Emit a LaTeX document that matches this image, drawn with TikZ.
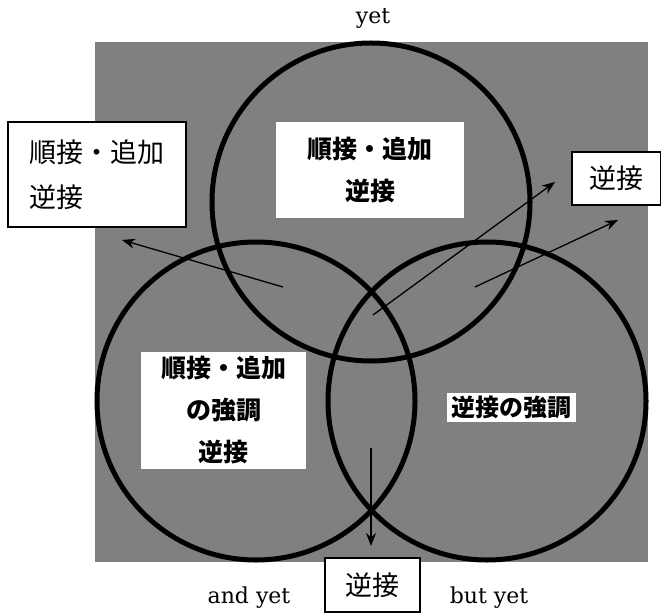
\documentclass[tikz,border=0pt]{standalone}
\usepackage{fontspec}
\setmainfont{DejaVu Serif}
\newfontfamily\jp{Noto Sans CJK JP}
\usetikzlibrary{arrows.meta}
\definecolor{bggray}{HTML}{808080}
\tikzset{
  ring/.style={circle, draw=black, line width=5bp, minimum size=318bp, inner sep=0pt},
  framedbox/.style={draw=black, fill=white, line width=1.3bp, inner sep=0pt, font=\jp\fontsize{27bp}{45bp}\selectfont},
  plainbox/.style={fill=white, inner sep=0pt, font=\jp\bfseries\fontsize{25bp}{42bp}\selectfont, align=center},
  engl/.style={font=\fontsize{22bp}{26bp}\selectfont, inner sep=0pt},
  arr/.style={-{Stealth[length=13bp,width=10bp]}, line width=1.3bp, black}
}
\begin{document}
\begin{tikzpicture}[x=1bp,y=-1bp]
\useasboundingbox (0,0) rectangle (661,614);
\fill[bggray] (95,42) rectangle (648,562);
\node[ring] (top) at (371,202) {};
\node[ring] (left) at (256,401) {};
\node[ring] (right) at (487,401) {};
\node[plainbox, minimum width=188bp, minimum height=96bp] (cbox) at (370,170) {順接・追加\\逆接};
\node[plainbox, minimum width=165bp, minimum height=117bp] (mbox) at (223.5,410.5) {順接・追加\\の強調\\逆接};
\node[plainbox, minimum width=129bp, minimum height=29bp, font=\jp\bfseries\fontsize{24bp}{28bp}\selectfont] (ebox) at (511.5,407.5) {逆接の強調};
\node[framedbox, minimum width=178bp, minimum height=105bp, align=left] (lbox) at (97,174.5) {順接・追加\\逆接};
\node[framedbox, minimum width=89bp, minimum height=53bp] (rbox) at (616.5,178.5) {逆接};
\node[framedbox, minimum width=95bp, minimum height=54bp] (bbox) at (372.5,585) {逆接};
\node[engl] (yet) at (373,18) {yet};
\node[engl] (andyet) at (249,598) {and yet};
\node[engl] (butyet) at (489,598) {but yet};
\coordinate (s1) at (283,287); \coordinate (t1) at (122,240);
\coordinate (s2) at (373,315); \coordinate (t2) at (555,182);
\coordinate (s3) at (475,287); \coordinate (t3) at (618,220);
\coordinate (s4) at (371,448); \coordinate (t4) at (371,546);
\draw[arr] (s1) -- (t1);
\draw[arr] (s2) -- (t2);
\draw[arr] (s3) -- (t3);
\draw[arr] (s4) -- (t4);
\end{tikzpicture}
\end{document}
